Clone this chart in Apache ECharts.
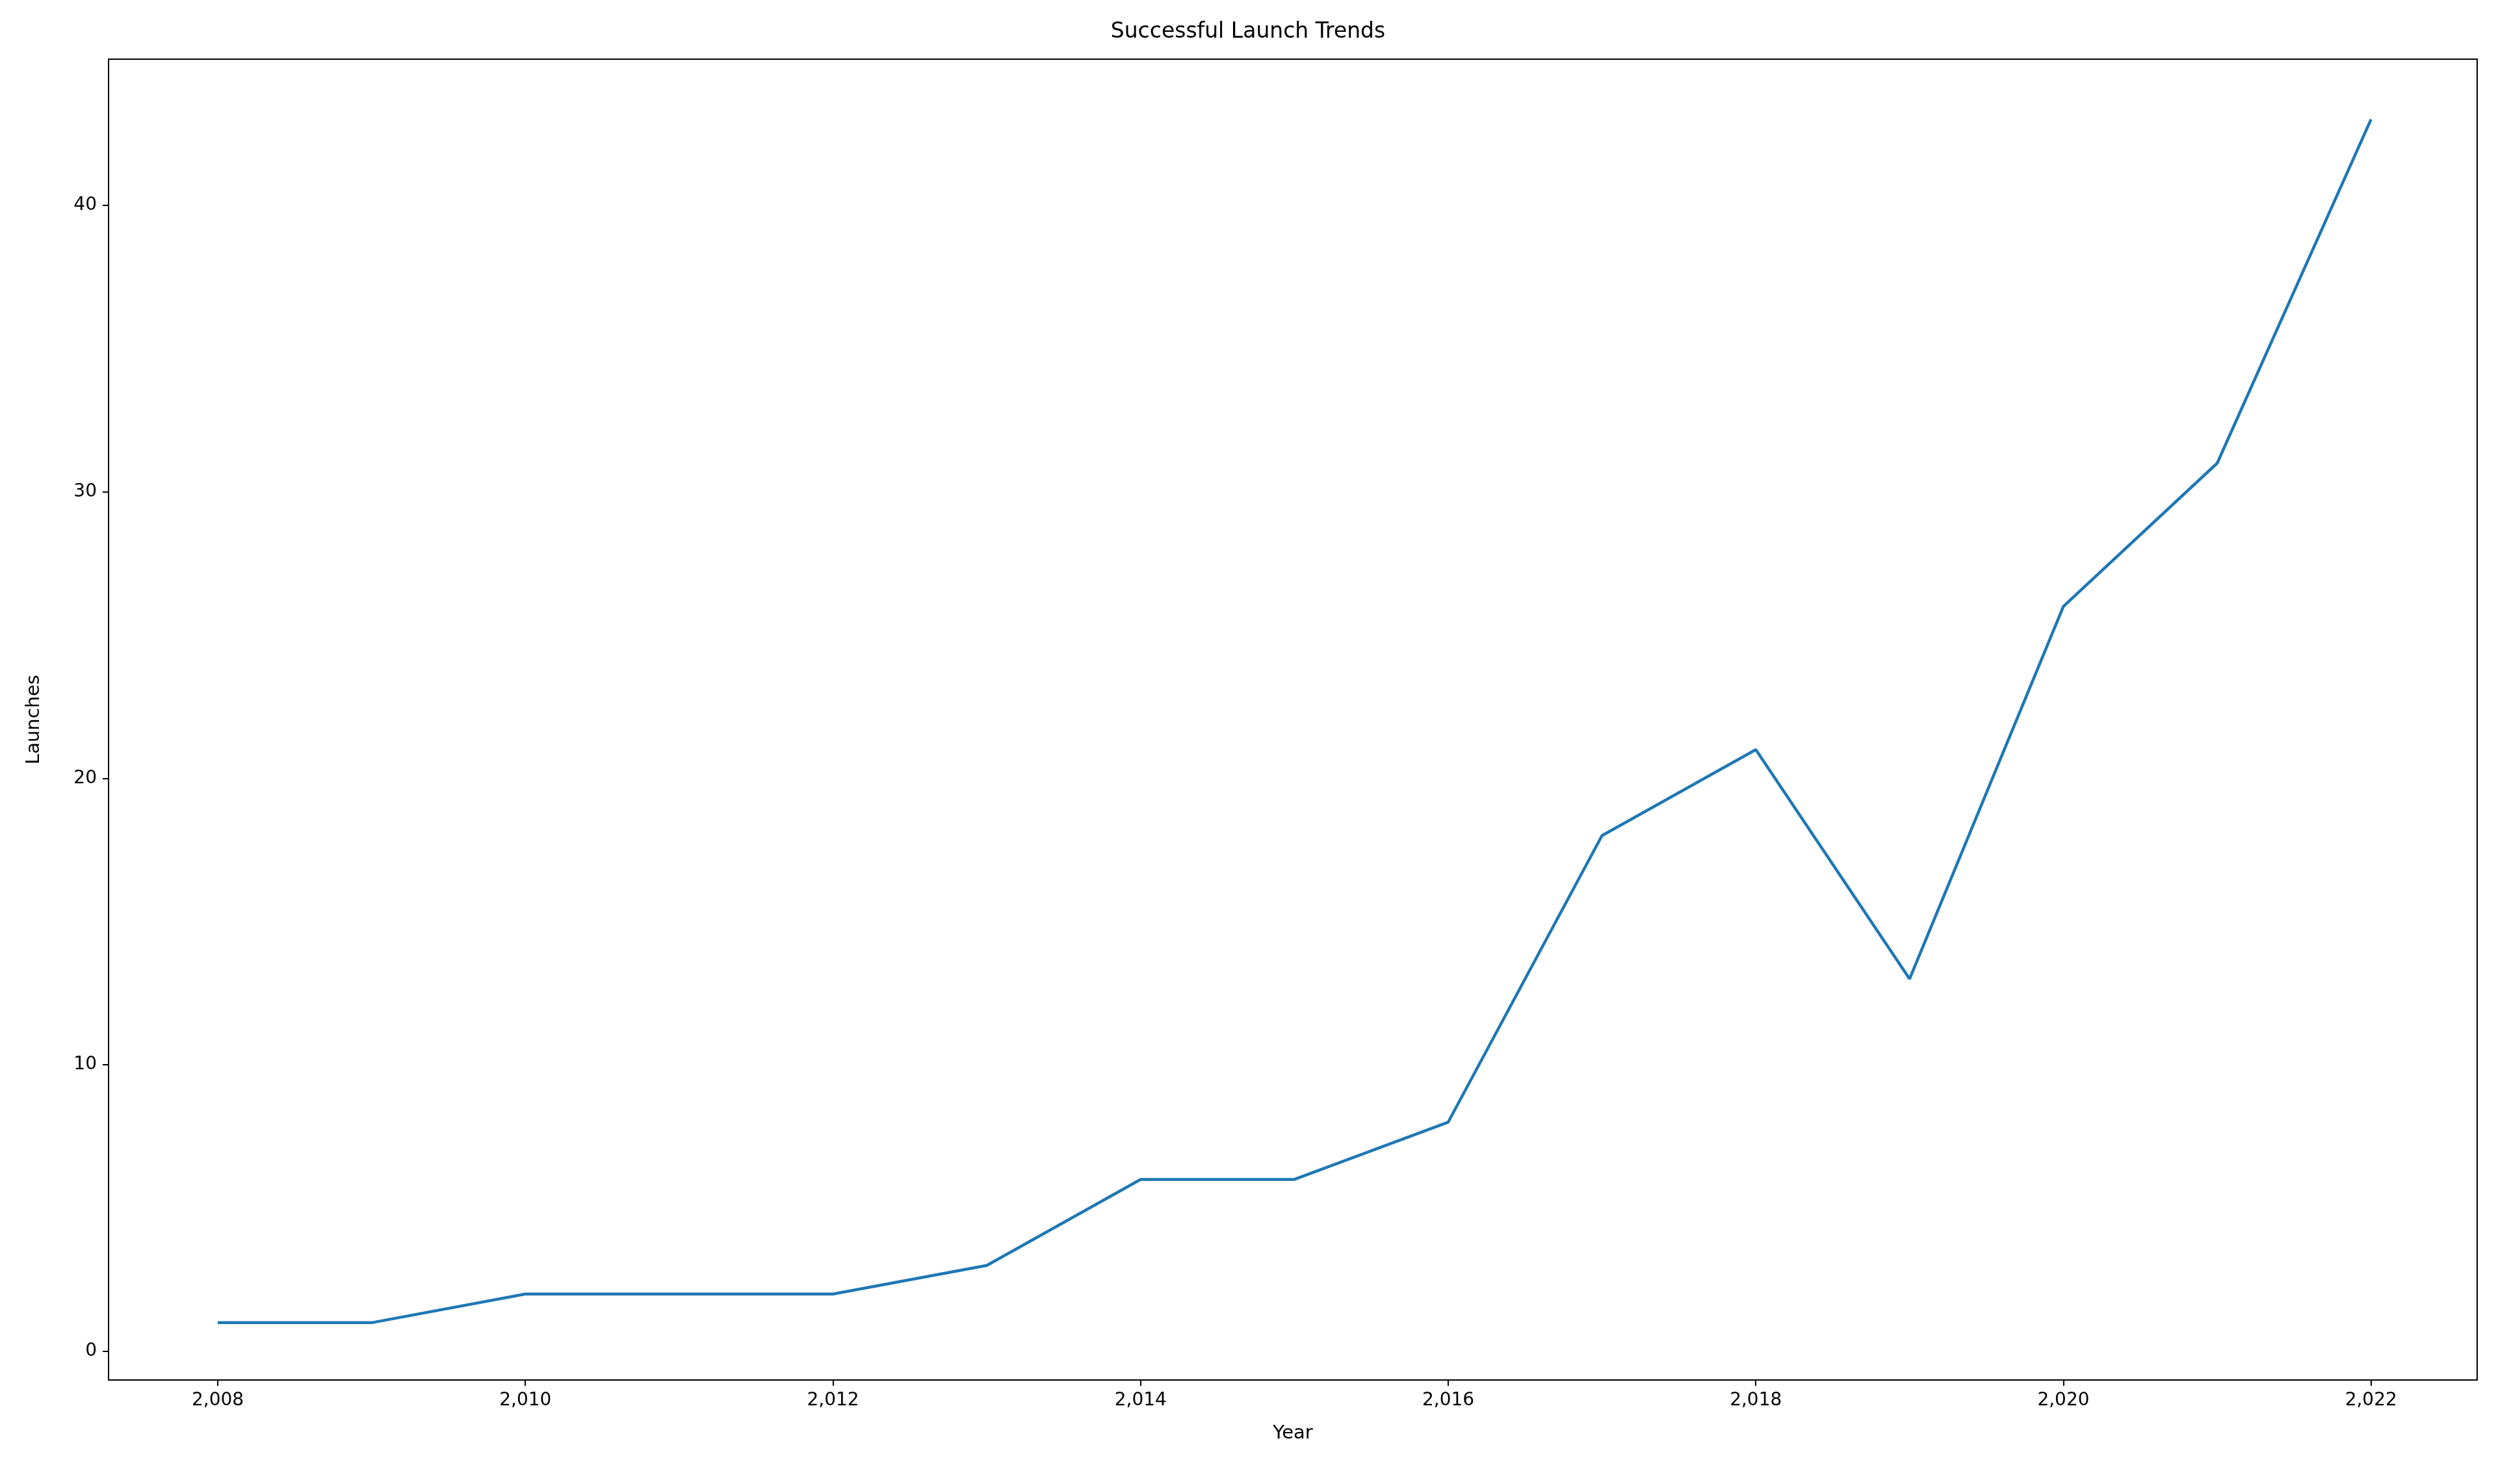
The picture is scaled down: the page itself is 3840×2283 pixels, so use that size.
<!DOCTYPE html>
<html><head><meta charset="utf-8">
<script src="https://cdn.jsdelivr.net/npm/echarts@6/dist/echarts.min.js"></script>
<style>html,body{margin:0;padding:0;background:#fff}#c{width:3840px;height:2283px}</style>
</head><body><div id="c"></div>
<script>
const years = [2008,2009,2010,2011,2012,2013,2014,2015,2016,2017,2018,2019,2020,2021,2022];
const launches = [1,1,2,2,2,3,6,6,8,18,21,13,26,31,43];
const xTicks = [2008,2010,2012,2014,2016,2018,2020,2022];
const yTicks = [0,10,20,30,40];
const chart = echarts.init(document.getElementById('c'));
const font = 'DejaVu Sans';
chart.setOption({
  animation:false,
  title:{text:'Successful Launch Trends',left:'center',top:28,textStyle:{fontFamily:font,fontSize:33,fontWeight:'normal',color:'#000'}},
  grid:{left:167,right:29,top:91,bottom:160},
  xAxis:{type:'value',min:2007.29,max:2022.69,name:'Year',nameLocation:'middle',nameGap:68,
    nameTextStyle:{fontFamily:font,fontSize:29,color:'#000'},
    axisLine:{show:true,onZero:false,lineStyle:{color:'#000',width:2}},
    axisTick:{show:true,length:9,customValues:xTicks,lineStyle:{color:'#000',width:2}},
    axisLabel:{customValues:xTicks,fontFamily:font,fontSize:28,color:'#000',margin:18},
    splitLine:{show:false}},
  yAxis:{type:'value',min:-1,max:45.1,name:'Launches',nameLocation:'middle',nameGap:100,
    nameTextStyle:{fontFamily:font,fontSize:29,color:'#000'},
    axisLine:{show:true,onZero:false,lineStyle:{color:'#000',width:2}},
    axisTick:{show:true,length:9,customValues:yTicks,lineStyle:{color:'#000',width:2}},
    axisLabel:{customValues:yTicks,fontFamily:font,fontSize:28,color:'#000',margin:18},
    splitLine:{show:false}},
  graphic:[{type:'rect',shape:{x:167,y:91,width:3840-167-29,height:2283-91-160},style:{fill:'none',stroke:'#000',lineWidth:2},z:100}],
  series:[{type:'line',data:years.map((y,i)=>[y,launches[i]]),showSymbol:false,lineStyle:{color:'#1f77b4',width:4.5}}]
});
</script></body></html>
